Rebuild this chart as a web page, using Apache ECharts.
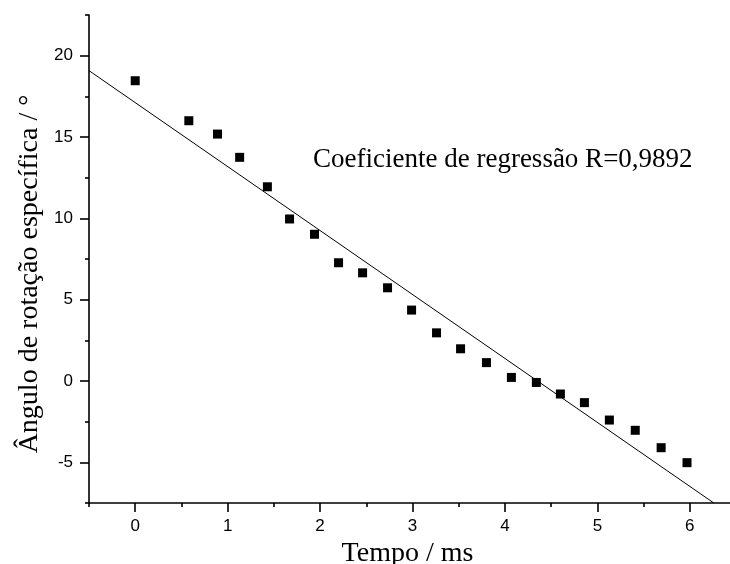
<!DOCTYPE html>
<html>
<head>
<meta charset="utf-8">
<script src="https://cdn.jsdelivr.net/npm/echarts@6/dist/echarts.min.js"></script>
<style>
  html, body { margin: 0; padding: 0; background: #fff; }
  #chart { width: 730px; height: 564px; }
</style>
</head>
<body>
<div id="chart"></div>
<script>
// Measured specific rotation angle against time
const tempo = [0, 0.58, 0.89, 1.13, 1.43, 1.67, 1.94, 2.20, 2.46, 2.73, 2.99,
               3.26, 3.52, 3.80, 4.07, 4.34, 4.60, 4.86, 5.13, 5.41, 5.69, 5.97];
const angulo = [18.46, 16.0, 15.18, 13.75, 11.94, 9.96, 9.02, 7.27, 6.65, 5.73, 4.36,
                2.96, 1.98, 1.13, 0.22, -0.09, -0.8, -1.33, -2.4, -3.03, -4.1, -5.02];

// Linear regression line, end points
const fitX = [-0.5, 6.26];
const fitY = [19.08, -7.5];

// Tick positions
const xMajor = [0, 1, 2, 3, 4, 5, 6];
const xMinor = [-0.5, 0.5, 1.5, 2.5, 3.5, 4.5, 5.5, 6.5];
const yMajor = [-5, 0, 5, 10, 15, 20];
const yMinor = [-7.5, -2.5, 2.5, 7.5, 12.5, 17.5, 22.5];

const xRange = [-0.5, 6.5];
const yRange = [-7.5, 22.5];

const serif = '"Liberation Serif", "Times New Roman", serif';
const sans = '"Liberation Sans", Arial, sans-serif';

const chart = echarts.init(document.getElementById('chart'), null, { renderer: 'canvas' });

const lineStyle = { color: '#000', width: 1.6 };

function majorAxis(extra) {
  return Object.assign({
    type: 'value',
    splitLine: { show: false },
    axisLine: { show: true, onZero: false, lineStyle: lineStyle }
  }, extra);
}

function minorAxis(extra) {
  return Object.assign({
    type: 'value',
    splitLine: { show: false },
    axisLine: { show: false, onZero: false },
    axisLabel: { show: false }
  }, extra);
}

const option = {
  backgroundColor: '#fff',
  animation: false,
  grid: { left: 89, right: -6, top: 15, bottom: 61, containLabel: false, outerBoundsMode: 'none' },
  xAxis: [
    majorAxis({
      min: xRange[0], max: xRange[1], position: 'bottom',
      axisTick: { show: true, inside: false, length: 9, lineStyle: lineStyle, customValues: xMajor },
      axisLabel: { color: '#000', fontFamily: sans, fontSize: 17, margin: 15, customValues: xMajor },
      name: 'Tempo / ms',
      nameLocation: 'middle',
      nameGap: 37,
      nameTextStyle: { fontFamily: serif, fontSize: 28, color: '#000', padding: [0, 10, 0, 0] }
    }),
    minorAxis({
      min: xRange[0], max: xRange[1], position: 'bottom',
      axisTick: { show: true, inside: false, length: 4, lineStyle: lineStyle, customValues: xMinor }
    })
  ],
  yAxis: [
    majorAxis({
      min: yRange[0], max: yRange[1], position: 'left',
      axisTick: { show: true, inside: false, length: 9, lineStyle: lineStyle, customValues: yMajor },
      axisLabel: { color: '#000', fontFamily: sans, fontSize: 17, margin: 16, customValues: yMajor },
      name: 'Ângulo de rotação específica / °',
      nameLocation: 'middle',
      nameGap: 44,
      nameTextStyle: { fontFamily: serif, fontSize: 28, color: '#000', padding: [0, 30, 0, 0] }
    }),
    minorAxis({
      min: yRange[0], max: yRange[1], position: 'left',
      axisTick: { show: true, inside: false, length: 4, lineStyle: lineStyle, customValues: yMinor }
    })
  ],
  graphic: [{
    type: 'text',
    left: 313,
    top: 146,
    style: {
      text: 'Coeficiente de regressão R=0,9892',
      font: '27px ' + serif,
      fill: '#000'
    }
  }],
  series: [
    {
      type: 'line',
      data: fitX.map((x, i) => [x, fitY[i]]),
      showSymbol: false,
      symbol: 'none',
      lineStyle: { color: '#000', width: 1 },
      z: 2
    },
    {
      type: 'scatter',
      data: tempo.map((x, i) => [x, angulo[i]]),
      symbol: 'rect',
      symbolSize: 9,
      itemStyle: { color: '#000', opacity: 1 },
      z: 3
    }
  ]
};

chart.setOption(option);
</script>
</body>
</html>
